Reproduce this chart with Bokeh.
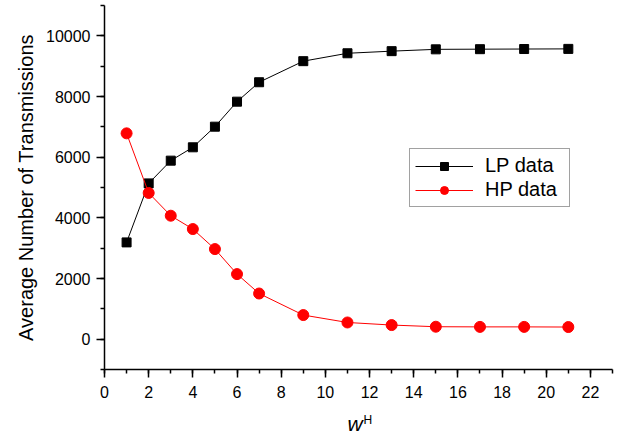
from bokeh.plotting import figure
from bokeh.models import SingleIntervalTicker, Title, Legend, LegendItem
from bokeh.embed import file_html
from bokeh.resources import INLINE

x_vals = [1, 2, 3, 4, 5, 6, 7, 9, 11, 13, 15, 17, 19, 21]
lp_data = [3190, 5135, 5885, 6325, 7005, 7830, 8470, 9165, 9425, 9495, 9555, 9560, 9565, 9570]
hp_data = [6785, 4820, 4070, 3630, 2970, 2145, 1505, 795, 550, 465, 410, 405, 405, 400]

FONT = "Liberation Sans"

p = figure(width=625, height=436, x_range=(0, 23), y_range=(-1000, 11000),
           output_backend="svg", toolbar_location=None,
           min_border_left=104, min_border_right=13, min_border_top=5, min_border_bottom=67)
p.outline_line_color = None
p.xgrid.visible = False
p.ygrid.visible = False
p.background_fill_color = "white"
p.border_fill_color = "white"

p.xaxis.ticker = SingleIntervalTicker(interval=2, num_minor_ticks=2)
p.yaxis.ticker = SingleIntervalTicker(interval=2000, num_minor_ticks=2)
for ax in (p.xaxis[0], p.yaxis[0]):
    ax.axis_line_width = 1.5
    ax.axis_line_color = "black"
    ax.major_tick_line_width = 1.5
    ax.minor_tick_line_width = 1.5
    ax.major_tick_line_color = "black"
    ax.minor_tick_line_color = "black"
    ax.major_tick_in = 0
    ax.major_tick_out = 8
    ax.minor_tick_in = 0
    ax.minor_tick_out = 4
    ax.major_label_text_font = FONT
    ax.major_label_text_font_size = "16px"
    ax.major_label_text_color = "black"
p.xaxis.major_label_standoff = 8
p.yaxis.major_label_standoff = 6
p.yaxis.axis_label = "Average Number of Transmissions"
p.yaxis.axis_label_text_font = FONT
p.yaxis.axis_label_text_font_size = "20px"
p.yaxis.axis_label_text_font_style = "normal"
p.yaxis.axis_label_text_color = "black"
p.yaxis.axis_label_standoff = 6

l1 = p.line(x_vals, lp_data, line_color="black", line_width=1)
m1 = p.scatter(x_vals, lp_data, marker="square", size=9, fill_color="black", line_color="black")
l2 = p.line(x_vals, hp_data, line_color="red", line_width=1)
m2 = p.scatter(x_vals, hp_data, marker="circle", size=11, fill_color="red", line_color="red")

legend = Legend(items=[LegendItem(label="LP data", renderers=[l1, m1]),
                       LegendItem(label="HP data", renderers=[l2, m2])],
                location=(305, 162))
legend.label_text_font = FONT
legend.label_text_font_size = "20px"
legend.label_text_color = "black"
legend.glyph_width = 58
legend.glyph_height = 20
legend.label_height = 20
legend.label_width = 79
legend.label_standoff = 12
legend.padding = 5
legend.spacing = 1
legend.margin = 0
legend.border_line_color = "#444444"
legend.border_line_width = 1.5
legend.background_fill_alpha = 1
p.add_layout(legend, "center")

h_title = Title(text="H", text_font=FONT, text_font_size="12px", text_font_style="normal",
                text_color="black", align="left", offset=259, standoff=20,
                vertical_align="bottom")
w_title = Title(text="w", text_font=FONT, text_font_size="21px", text_font_style="italic",
                text_color="black", align="left", offset=243, standoff=-50,
                vertical_align="top")
p.add_layout(h_title, "below")
p.add_layout(w_title, "below")

open("out.html", "w").write(file_html(p, INLINE))
